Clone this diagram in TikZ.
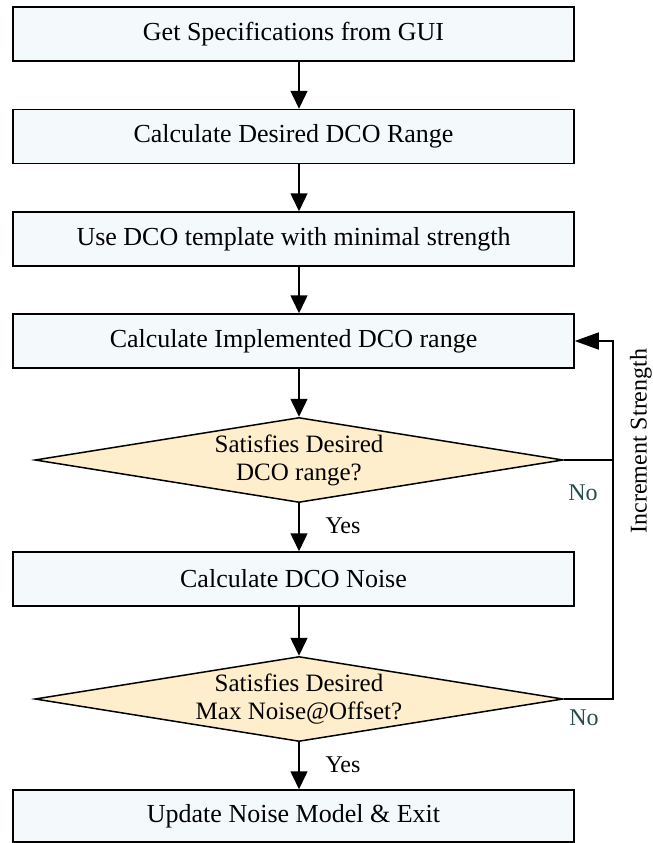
\documentclass[tikz,border=0pt]{standalone}
\usepackage{fontspec}
\setmainfont{Liberation Serif}
\usetikzlibrary{shapes.geometric,arrows.meta}
\definecolor{boxfill}{RGB}{244,249,252}
\definecolor{diafill}{RGB}{255,238,204}
\definecolor{nocol}{RGB}{38,76,76}
\begin{document}
\begin{tikzpicture}[x=1bp,y=-1bp,
  font=\fontsize{24bp}{28bp}\selectfont,
  stepbox/.style={draw, fill=boxfill, line width=1.5bp, minimum width=561bp, minimum height=54bp, inner sep=0pt, font=\fontsize{26bp}{28bp}\selectfont},
  decision/.style={diamond, draw, fill=diafill, line width=1.5bp, minimum width=528bp, minimum height=85bp, inner sep=0pt, shape aspect=6.2, align=center, font=\fontsize{25bp}{28bp}\selectfont},
  arr/.style={line width=1.5bp, -{Triangle[length=18bp,width=17bp]}},
  longarr/.style={line width=1.5bp, -{Triangle[length=24bp,width=17bp]}},
  line/.style={line width=1.5bp},
  yeslbl/.style={inner sep=0pt},
  nolbl/.style={inner sep=0pt, text=nocol}]
\useasboundingbox (0,0) rectangle (653,843);
\node[stepbox] (b1) at (293.5,34) {Get Specifications from GUI};
\node[stepbox] (b2) at (293.5,136.5) {Calculate Desired DCO Range};
\node[stepbox] (b3) at (293.5,239) {Use DCO template with minimal strength};
\node[stepbox] (b4) at (293.5,341) {Calculate Implemented DCO range};
\node[decision] (d1) at (299,460) {Satisfies Desired\\DCO range?};
\node[stepbox] (b5) at (293.5,579) {Calculate DCO Noise};
\node[decision] (d2) at (299,699) {Satisfies Desired\\Max Noise@Offset?};
\node[stepbox, minimum height=52bp] (b6) at (293.5,816) {Update Noise Model \& Exit};
\coordinate (j1) at (613,460);
\coordinate (j2) at (613,699);
\coordinate (jt) at (613,341);
\draw[arr] (b1.south -| d1.center) -- (b2.north -| d1.center);
\draw[arr] (b2.south -| d1.center) -- (b3.north -| d1.center);
\draw[arr] (b3.south -| d1.center) -- (b4.north -| d1.center);
\draw[arr] (b4.south -| d1.center) -- (d1.north);
\draw[arr] (d1.south) -- (b5.north -| d1.center);
\draw[arr] (b5.south -| d1.center) -- (d2.north);
\draw[arr] (d2.south) -- (b6.north -| d2.center);
\draw[line] (d1.east) -- (j1);
\draw[longarr] (d2.east) -- (j2) -- (jt) -- (b4.east);
\node[yeslbl] (y1) at (343,526) {Yes};
\node[yeslbl] (y2) at (343,765) {Yes};
\node[nolbl] (n1) at (583,493) {No};
\node[nolbl] (n2) at (584,718) {No};
\node[rotate=90, inner sep=0pt] (inc) at (641,441) {Increment Strength};
\end{tikzpicture}
\end{document}
